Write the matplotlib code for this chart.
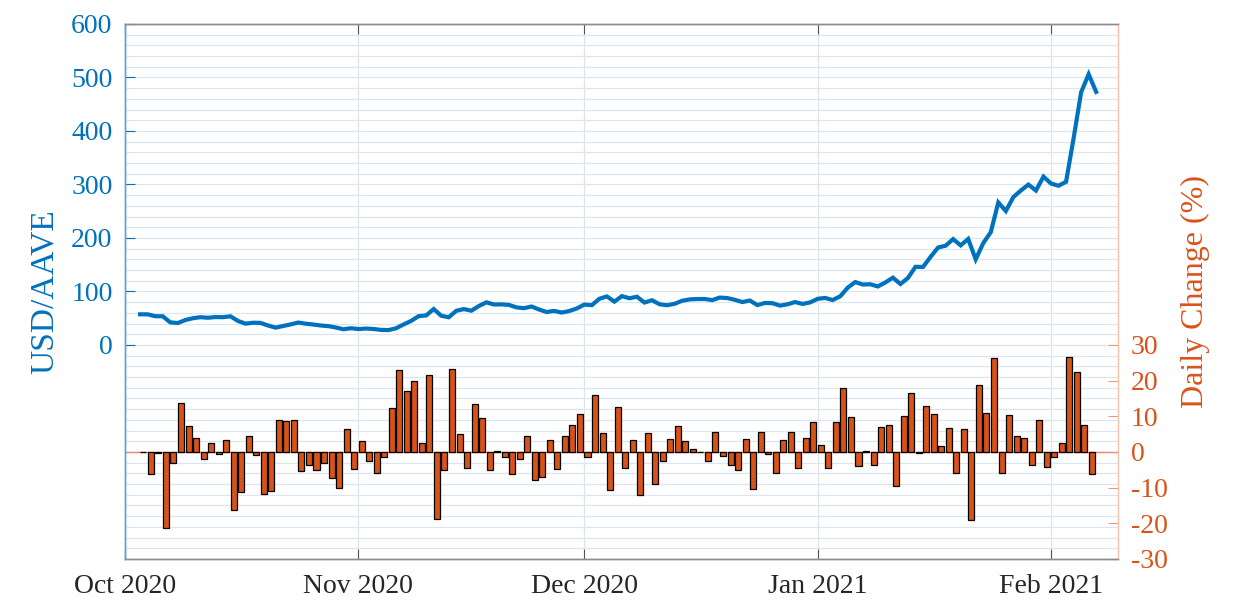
import numpy as np
import pandas as pd
import matplotlib
matplotlib.use("Agg")
import matplotlib.pyplot as plt
import matplotlib.dates as mdates

# ---------------- data ----------------
price_start = "2020-10-03"   # first price date
change_start = "2020-10-04"  # first daily-change date
price = [57.3, 57.3, 53.8, 53.7, 42.3, 41.0, 46.6, 50.0, 51.9, 50.9, 52.2, 51.9, 53.6, 44.9,
         39.9, 41.6, 41.3, 36.4, 32.4, 35.4, 38.5, 41.9, 39.8, 38.3, 36.4, 35.2, 32.7, 29.4,
         31.3, 29.8, 30.7, 29.9, 28.2, 27.8, 31.2, 38.4, 45.0, 53.9, 55.2, 67.2, 54.6, 51.8,
         63.9, 67.1, 64.1, 72.8, 79.7, 75.7, 75.9, 74.9, 70.2, 68.8, 71.9, 66.3, 61.6, 63.7,
         60.6, 63.4, 68.2, 75.5, 74.4, 86.3, 90.8, 81.1, 91.3, 87.3, 90.2, 79.3, 83.6, 76.1,
         74.3, 77.0, 82.6, 85.2, 85.9, 86.0, 83.9, 88.6, 87.7, 84.5, 80.2, 83.1, 74.5, 78.6,
         78.1, 73.6, 76.0, 80.3, 76.7, 79.6, 86.3, 87.9, 84.0, 91.0, 107.2, 117.6, 113.0, 113.5,
         109.4, 116.9, 125.8, 113.9, 125.3, 146.1, 145.8, 164.6, 182.2, 185.5, 197.9, 186.2,
         198.1, 160.1, 190.3, 210.9, 266.4, 250.4, 276.4, 288.8, 299.8, 288.7, 314.7, 301.8,
         297.6, 305.0, 386.1, 472.2, 506.0, 473.0]
change = [0.0, -6.1, -0.2, -21.3, -3.1, 13.8, 7.3, 3.8, -2.0, 2.6, -0.6, 3.4, -16.2, -11.2,
          4.4, -0.9, -11.8, -10.9, 9.1, 8.8, 9.0, -5.2, -3.7, -5.0, -3.2, -7.2, -10.1, 6.5,
          -4.7, 3.0, -2.6, -5.8, -1.4, 12.4, 22.9, 17.1, 19.8, 2.5, 21.6, -18.7, -5.1, 23.4,
          5.0, -4.4, 13.5, 9.5, -5.0, 0.2, -1.3, -6.3, -1.9, 4.5, -7.8, -7.1, 3.5, -4.9, 4.6,
          7.6, 10.7, -1.5, 16.0, 5.2, -10.7, 12.6, -4.4, 3.3, -12.1, 5.4, -9.0, -2.4, 3.7, 7.3,
          3.1, 0.8, 0.1, -2.4, 5.6, -1.0, -3.7, -5.0, 3.6, -10.3, 5.5, -0.6, -5.8, 3.3, 5.6,
          -4.5, 3.8, 8.4, 1.9, -4.5, 8.3, 17.8, 9.7, -3.9, 0.4, -3.6, 6.9, 7.6, -9.5, 10.0,
          16.6, -0.2, 12.9, 10.7, 1.8, 6.7, -5.9, 6.4, -19.2, 18.9, 10.8, 26.3, -6.0, 10.4,
          4.5, 3.8, -3.7, 9.0, -4.1, -1.4, 2.5, 26.6, 22.3, 7.6, -6.3]
month_ticks = ["2020-10-01", "2020-11-01", "2020-12-01", "2021-01-01", "2021-02-01"]
month_labels = ["Oct 2020", "Nov 2020", "Dec 2020", "Jan 2021", "Feb 2021"]
left_ticks = [0, 100, 200, 300, 400, 500, 600]
right_ticks = [-30, -20, -10, 0, 10, 20, 30]

# ---------------- style ----------------
BLUE = "#0072BD"
ORANGE = "#D95319"
plt.rcParams["font.family"] = ["Liberation Serif", "DejaVu Serif"]
plt.rcParams["axes.unicode_minus"] = False

price_dates = pd.date_range(price_start, periods=len(price), freq="D")
change_dates = pd.date_range(change_start, periods=len(change), freq="D") - pd.Timedelta(hours=13.7)

fig = plt.figure(figsize=(12.37, 6.13), dpi=100)
ax = fig.add_axes([0.1011, 0.0881, 0.8027, 0.8728])
ax2 = ax.twinx()

# grid
ax.set_yticks(np.arange(-400, 601, 20), minor=True)
ax.tick_params(axis="y", which="minor", length=0)
ax.grid(which="minor", axis="y", color="#DAE6F2", lw=0.9)
ax.grid(which="major", axis="y", color="#DAE6F2", lw=0.9)
ax.grid(which="major", axis="x", color="#E0E4E9", lw=0.9)
ax.set_axisbelow(True)

# line
ax.plot(price_dates, price, color=BLUE, lw=3.0, solid_joinstyle="miter", zorder=3)
ax.set_ylim(-400, 600)
ax.set_yticks(left_ticks)
ax.set_yticklabels([str(v) for v in left_ticks])

# bars
ax2.axhline(0, color="#E58A62", lw=1.0, zorder=1)
ax2.bar(change_dates, change, width=0.8, color=ORANGE, edgecolor="black", linewidth=0.9, zorder=2)
ax2.set_ylim(-30, 120)
ax2.set_yticks(right_ticks)
ax2.set_yticklabels([str(v) for v in right_ticks])

# x axis
x0 = pd.Timestamp("2020-10-01")
ax.set_xlim(x0, x0 + pd.Timedelta(days=131.9))
ax.set_xticks(pd.to_datetime(month_ticks))
ax.set_xticklabels(month_labels)

ax.tick_params(axis="x", which="major", direction="in", length=7, width=0.8, top=True,
               labelsize=20, colors="#555555", labelcolor="#262626", pad=11)
ax.tick_params(axis="y", which="major", direction="in", length=7, width=0.8,
               labelsize=20, colors=BLUE, labelcolor=BLUE, pad=9)
ax2.tick_params(axis="y", which="major", direction="in", length=7, width=0.8,
                labelsize=20, colors="#EE9B78", labelcolor=ORANGE, pad=9)

for s in ["top", "bottom"]:
    ax.spines[s].set_color("#8C8C8C")
    ax2.spines[s].set_color("#8C8C8C")
ax.spines["left"].set_color("#5FA0D6")
ax2.spines["left"].set_color("#5FA0D6")
ax2.spines["right"].set_color("#F3C1AA")
ax.spines["right"].set_visible(False)
for a in (ax, ax2):
    for s in a.spines.values():
        s.set_linewidth(1.0)

ax.set_ylabel("USD/AAVE", color=BLUE, fontsize=24, labelpad=8)
ax2.set_ylabel("Daily Change (%)", color=ORANGE, fontsize=23, labelpad=10)

fig.savefig("out.png", dpi=100)
